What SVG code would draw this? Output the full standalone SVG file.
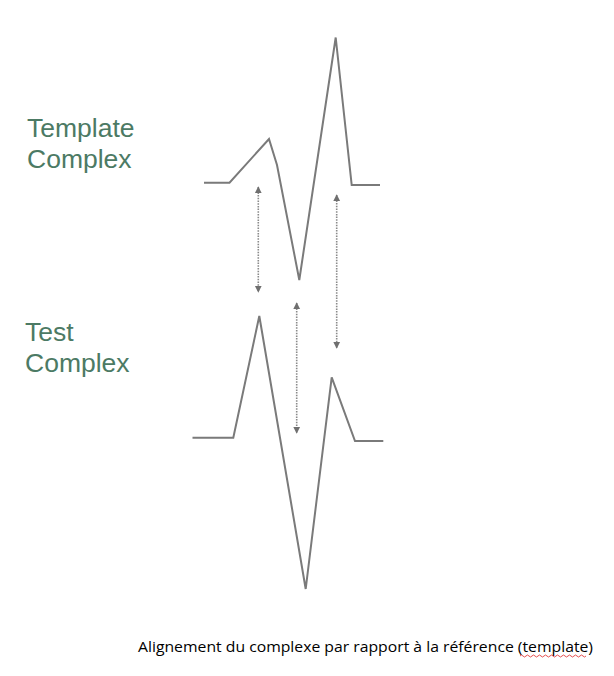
<svg xmlns="http://www.w3.org/2000/svg" width="614" height="676" viewBox="0 0 614 676">
<style>
.wave{fill:none;stroke:#7a7a7a;stroke-width:2;stroke-linejoin:miter}
.arr{stroke:#8a8a8a;stroke-width:1.6;stroke-dasharray:1.5 1.2;fill:none}
.lbl{font-family:"Liberation Sans",Arial,sans-serif;font-size:26.5px;fill:#4c7a64}
.cap{font-family:"Open Sans","Liberation Sans",sans-serif;font-size:15px;fill:#000}
</style>
<defs>
<marker id="ah" viewBox="0 0 10 10" refX="9" refY="5" markerWidth="7" markerHeight="8" orient="auto-start-reverse" markerUnits="userSpaceOnUse">
<path d="M0,0 L10,5 L0,10 Z" fill="#6f6f6f"/>
</marker>
</defs>
<rect width="614" height="676" fill="#fff"/>
<g id="template-label"><text class="lbl" x="27" y="137">Template</text><text class="lbl" x="27" y="168">Complex</text></g>
<g id="test-label"><text class="lbl" x="25" y="341">Test</text><text class="lbl" x="25" y="372">Complex</text></g>
<g id="template-complex"><polyline class="wave" points="204,182.7 229.5,182.7 269,139 277,165 299.3,280 335.7,37.5 351.7,185 380,185"/></g>
<g id="test-complex"><polyline class="wave" points="192.5,437.7 233.3,437.7 259.3,316 305.7,589 331.7,377.3 355,441 383.3,441"/></g>
<g id="connectors">
<line class="arr" x1="258.3" y1="187" x2="258.3" y2="292" marker-start="url(#ah)" marker-end="url(#ah)"/>
<line class="arr" x1="296.7" y1="303" x2="296.7" y2="433" marker-start="url(#ah)" marker-end="url(#ah)"/>
<line class="arr" x1="336.7" y1="195" x2="336.7" y2="348" marker-start="url(#ah)" marker-end="url(#ah)"/>
</g>
<g id="caption">
<text class="cap" x="138" y="652" textLength="455" lengthAdjust="spacingAndGlyphs">Alignement du complexe par rapport à la référence (template)</text>
<path d="M520,656 q1.5,-2 3,0 t3,0 t3,0 t3,0 t3,0 t3,0 t3,0 t3,0 t3,0 t3,0 t3,0 t3,0 t3,0 t3,0 t3,0 t3,0 t3,0 t3,0 t3,0 t3,0 t3,0 t3,0" fill="none" stroke="#d22" stroke-width="0.8"/>
</g>
</svg>
